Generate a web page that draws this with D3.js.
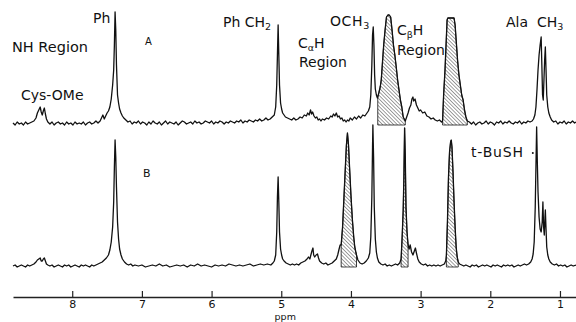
<!DOCTYPE html>
<html>
<head>
<meta charset="utf-8">
<script src="https://cdn.jsdelivr.net/npm/d3@7"></script>
<style>
  body { margin: 0; background: #fff; }
  svg { display: block; font-family: "DejaVu Sans", sans-serif; }
</style>
</head>
<body>
<svg width="576" height="322"></svg>
<script>
// spectrum A: [ppm, intensity]
var traceA = [
  [8.85,2],[8.82,0],[8.79,3],[8.76,1],[8.73,2],[8.70,0],[8.67,3],[8.64,1],[8.61,2],[8.58,3],[8.55,4],[8.52,7],[8.50,12],[8.48,15],[8.46,18],[8.445,13],[8.43,10],[8.415,14],[8.40,17],[8.385,11],[8.37,6],[8.35,3],[8.32,1],[8.29,3],[8.26,0],[8.23,2],[8.20,3],[8.17,1],[8.14,2],[8.11,0],[8.08,3],[8.05,1],[8.02,2],[7.99,0],[7.96,3],[7.93,1],[7.90,2],[7.87,1],[7.84,3],[7.81,0],[7.78,2],[7.75,3],[7.72,1],[7.69,2],[7.66,4],[7.63,2],[7.60,4],[7.58,7],[7.56,10],[7.54,6],[7.52,9],[7.50,12],[7.48,14],[7.46,18],[7.44,26],[7.42,40],[7.405,55],[7.395,80],[7.385,113],[7.375,95],[7.365,60],[7.35,30],[7.335,22],[7.32,16],[7.30,12],[7.28,9],[7.26,7],[7.23,5],[7.20,3],[7.17,4],[7.14,1],[7.11,3],[7.08,2],[7.05,4],[7.02,1],[6.99,3],[6.96,2],[6.93,0],[6.90,3],[6.87,1],[6.84,4],[6.81,2],[6.78,1],[6.75,3],[6.72,0],[6.69,2],[6.66,4],[6.63,1],[6.60,3],[6.57,2],[6.54,1],[6.51,3],[6.48,0],[6.45,2],[6.42,4],[6.39,3],[6.36,1],[6.33,2],[6.30,3],[6.27,1],[6.24,4],[6.21,2],[6.18,3],[6.15,1],[6.12,2],[6.09,4],[6.06,3],[6.03,2],[6.00,4],[5.97,1],[5.94,3],[5.91,2],[5.88,4],[5.85,3],[5.82,1],[5.79,3],[5.76,2],[5.73,4],[5.70,3],[5.67,2],[5.64,4],[5.61,3],[5.58,5],[5.55,2],[5.52,4],[5.49,3],[5.46,5],[5.43,4],[5.40,3],[5.37,5],[5.34,4],[5.31,6],[5.28,4],[5.25,5],[5.22,7],[5.19,5],[5.16,6],[5.13,8],[5.10,10],[5.08,18],[5.065,40],[5.055,70],[5.045,100],[5.035,70],[5.025,40],[5.01,22],[4.995,16],[4.98,12],[4.96,10],[4.94,8],[4.91,7],[4.88,6],[4.85,5],[4.82,7],[4.79,5],[4.76,6],[4.73,8],[4.70,7],[4.67,10],[4.64,9],[4.62,12],[4.60,10],[4.58,15],[4.565,11],[4.55,13],[4.53,9],[4.51,7],[4.49,8],[4.47,5],[4.45,6],[4.43,4],[4.41,6],[4.38,5],[4.35,7],[4.32,6],[4.29,9],[4.27,8],[4.25,11],[4.23,9],[4.21,12],[4.19,8],[4.17,9],[4.15,6],[4.13,7],[4.11,4],[4.09,5],[4.07,3],[4.05,5],[4.03,4],[4.01,7],[3.98,5],[3.95,8],[3.92,6],[3.89,9],[3.86,7],[3.83,10],[3.80,9],[3.77,12],[3.75,14],[3.73,18],[3.715,30],[3.70,60],[3.69,90],[3.68,98],[3.67,80],[3.66,50],[3.65,36],[3.635,30],[3.62,27],[3.615,28],[3.60,32],[3.58,38],[3.565,45],[3.55,60],[3.53,80],[3.51,95],[3.49,108],[3.47,110],[3.45,110],[3.43,108],[3.41,95],[3.39,80],[3.37,70],[3.35,58],[3.33,45],[3.31,35],[3.29,25],[3.27,18],[3.25,8],[3.22,4],[3.20,8],[3.18,12],[3.16,17],[3.14,20],[3.125,26],[3.11,28],[3.10,24],[3.08,26],[3.06,20],[3.04,17],[3.02,14],[3.00,15],[2.97,12],[2.94,13],[2.91,9],[2.88,8],[2.85,6],[2.82,7],[2.79,5],[2.76,4],[2.73,5],[2.70,3],[2.685,4],[2.67,30],[2.65,55],[2.635,80],[2.62,105],[2.61,107],[2.58,107],[2.55,107],[2.52,107],[2.505,100],[2.49,85],[2.47,65],[2.45,50],[2.43,40],[2.41,30],[2.39,25],[2.37,15],[2.35,8],[2.33,4],[2.30,3],[2.27,1],[2.24,3],[2.21,0],[2.18,2],[2.15,3],[2.12,1],[2.09,2],[2.06,4],[2.03,1],[2.00,3],[1.97,2],[1.94,0],[1.91,3],[1.88,2],[1.85,4],[1.82,1],[1.79,3],[1.76,2],[1.73,4],[1.70,2],[1.67,1],[1.64,3],[1.61,2],[1.58,4],[1.55,1],[1.52,3],[1.49,2],[1.46,4],[1.43,3],[1.40,4],[1.38,6],[1.36,10],[1.345,18],[1.33,35],[1.315,55],[1.30,70],[1.285,80],[1.27,88],[1.26,60],[1.25,30],[1.24,25],[1.23,45],[1.22,65],[1.21,78],[1.20,55],[1.19,30],[1.175,18],[1.16,12],[1.14,8],[1.12,5],[1.09,3],[1.06,4],[1.03,1],[1.00,3],[0.97,2],[0.94,4],[0.91,1],[0.88,3],[0.85,2],[0.82,4],[0.79,2],[0.77,3]
];

// spectrum B: [ppm, intensity]
var traceB = [
  [8.85,1],[8.82,2],[8.79,0],[8.76,1],[8.73,2],[8.70,1],[8.67,0],[8.64,2],[8.61,1],[8.58,2],[8.55,3],[8.52,5],[8.50,7],[8.48,8],[8.46,9],[8.445,6],[8.43,6],[8.415,8],[8.40,9],[8.385,6],[8.37,3],[8.35,2],[8.32,1],[8.29,2],[8.26,0],[8.23,1],[8.20,2],[8.17,1],[8.14,0],[8.11,2],[8.08,1],[8.05,2],[8.02,0],[7.99,1],[7.96,2],[7.93,1],[7.90,0],[7.87,2],[7.84,1],[7.81,2],[7.78,1],[7.75,0],[7.72,2],[7.69,1],[7.66,2],[7.63,3],[7.60,4],[7.57,5],[7.54,7],[7.51,9],[7.48,12],[7.46,17],[7.44,25],[7.42,40],[7.405,65],[7.395,100],[7.385,127],[7.375,110],[7.365,80],[7.35,45],[7.335,28],[7.32,18],[7.30,12],[7.28,8],[7.25,5],[7.22,3],[7.19,2],[7.16,3],[7.13,1],
  [7.10,2],[7.05,1],[7.00,2],[6.95,0],[6.90,1],[6.85,2],[6.80,1],[6.75,3],[6.70,1],[6.65,2],[6.60,0],[6.55,1],[6.50,2],[6.45,1],[6.40,2],[6.35,0],[6.30,2],[6.25,1],[6.20,3],[6.15,1],[6.10,2],[6.05,1],[6.00,0],[5.95,2],[5.90,1],[5.85,2],[5.80,1],[5.75,3],[5.70,2],[5.65,1],[5.60,2],[5.55,1],[5.50,2],[5.45,3],[5.40,1],[5.35,2],[5.30,3],[5.25,2],[5.20,3],[5.15,2],
  [5.12,4],[5.10,6],[5.08,12],[5.065,35],[5.055,70],[5.045,90],[5.035,65],[5.025,35],[5.01,18],[4.995,12],[4.98,8],[4.96,6],[4.93,4],[4.90,3],[4.87,2],[4.84,3],[4.81,2],[4.78,3],[4.75,2],[4.72,4],[4.69,5],[4.66,6],[4.63,8],[4.61,10],[4.59,8],[4.575,12],[4.56,16],[4.545,19],[4.535,12],[4.52,10],[4.50,12],[4.48,13],[4.465,9],[4.45,6],[4.42,4],[4.39,3],[4.36,4],[4.33,2],[4.30,3],[4.27,4],[4.24,6],[4.21,8],[4.19,12],[4.17,18],[4.155,22],[4.14,22],[4.12,40],[4.10,70],[4.08,100],[4.065,122],[4.05,134],[4.035,122],[4.02,100],[4.00,72],[3.98,48],[3.96,30],[3.945,20],[3.93,15],[3.92,12],[3.90,7],[3.87,4],[3.84,3],[3.81,4],[3.78,6],[3.75,9],[3.73,14],[3.715,30],[3.70,70],[3.69,120],[3.685,142],[3.675,110],[3.665,60],[3.65,28],[3.635,15],[3.62,9],[3.60,5],[3.57,3],[3.54,2],[3.51,3],[3.48,1],[3.45,2],[3.42,1],[3.39,2],[3.36,3],[3.33,2],[3.30,4],[3.28,8],[3.265,30],[3.25,57],[3.24,90],[3.23,139],[3.22,110],[3.21,60],[3.195,35],[3.18,22],[3.165,18],[3.15,22],[3.13,15],[3.11,12],[3.09,16],[3.075,19],[3.06,14],[3.04,8],[3.02,5],[2.99,3],[2.96,2],[2.93,3],[2.90,1],[2.87,2],[2.84,1],[2.81,2],[2.78,1],[2.75,2],[2.72,1],[2.69,2],[2.66,3],[2.64,6],[2.63,12],[2.615,45],[2.60,90],[2.585,115],[2.57,125],[2.56,127],[2.55,120],[2.535,95],[2.52,65],[2.505,40],[2.49,20],[2.475,10],[2.46,5],[2.44,3],[2.41,2],[2.38,1],[2.35,2],[2.32,1],[2.29,0],[2.26,2],[2.23,1],[2.20,2],[2.17,0],[2.14,1],[2.11,2],[2.08,1],[2.05,2],[2.02,1],[1.99,0],[1.96,2],[1.93,1],[1.90,2],[1.87,1],[1.84,0],[1.81,2],[1.78,1],[1.75,2],[1.72,1],[1.69,2],[1.66,0],[1.63,1],[1.60,2],[1.57,1],[1.54,2],[1.51,3],[1.48,2],[1.45,3],[1.42,5],[1.40,8],[1.385,13],[1.37,25],[1.355,60],[1.345,100],[1.335,140],[1.325,105],[1.315,75],[1.30,50],[1.285,38],[1.27,35],[1.255,45],[1.245,65],[1.235,40],[1.225,32],[1.215,50],[1.21,57],[1.20,38],[1.19,20],[1.175,12],[1.16,8],[1.14,5],[1.11,3],[1.08,2],[1.05,3],[1.02,1],[0.99,2],[0.96,1],[0.93,2],[0.90,0],[0.87,1],[0.84,2],[0.81,1],[0.77,2]
];

// shaded (hatched) peaks, ppm ranges
var hatchA = [[3.615, 3.22], [2.685, 2.33]];
var hatchB = [[4.14, 3.92], [3.28, 3.18], [2.63, 2.46]];
var ppmTicks = [8, 7, 6, 5, 4, 3, 2, 1];

var svg = d3.select("svg");

var x = d3.scaleLinear().domain([8.85, 0.77]).range([13, 576]);
var y = d3.scaleLinear().domain([0, 150]).range([0, -150]);

var defs = svg.append("defs");
defs.append("pattern")
  .attr("id", "hatch")
  .attr("patternUnits", "userSpaceOnUse")
  .attr("width", 2.6).attr("height", 2.6)
  .attr("patternTransform", "rotate(-45)")
  .append("line")
  .attr("x1", 0).attr("y1", 0).attr("x2", 0).attr("y2", 2.6)
  .attr("stroke", "#111").attr("stroke-width", 0.8);

var line = d3.line().x(function (d) { return x(d[0]); }).y(function (d) { return y(d[1]); });
var area = d3.area().x(function (d) { return x(d[0]); }).y0(y(0)).y1(function (d) { return y(d[1]); });

function drawTrace(data, hatches, baseY) {
  var g = svg.append("g").attr("transform", "translate(0," + baseY + ")");
  hatches.forEach(function (r) {
    var seg = data.filter(function (d) { return d[0] <= r[0] + 1e-6 && d[0] >= r[1] - 1e-6; });
    g.append("path")
      .attr("d", area(seg))
      .attr("fill", "url(#hatch)")
      .attr("stroke", "#111")
      .attr("stroke-width", 0.8);
  });
  g.append("path")
    .attr("d", line(data))
    .attr("fill", "none")
    .attr("stroke", "#111")
    .attr("stroke-width", 1.3)
    .attr("stroke-linejoin", "round");
}

drawTrace(traceA, hatchA, 125);
drawTrace(traceB, hatchB, 267);

// axis
var axis = svg.append("g")
  .attr("transform", "translate(0,297)")
  .call(d3.axisBottom(x).tickValues(ppmTicks).tickSizeInner(-6).tickSizeOuter(0).tickPadding(3));
axis.select(".domain").attr("stroke", "#222").attr("stroke-width", 1.3);
axis.selectAll(".tick line").attr("stroke", "#222").attr("stroke-width", 1.2);
axis.selectAll(".tick text").attr("font-size", 11).attr("fill", "#111").attr("font-family", "DejaVu Sans, sans-serif");

svg.append("text").attr("x", x(5) + 4).attr("y", 319.6).attr("text-anchor", "middle")
  .attr("font-size", 9.5).attr("fill", "#111").text("ppm");

// labels
function label(tx, ty, parts, size) {
  var t = svg.append("text").attr("x", tx).attr("y", ty).attr("font-size", size || 14).attr("fill", "#111");
  parts.forEach(function (p) {
    var s = t.append("tspan").text(p[0]);
    if (p[1] === "sub") s.attr("font-size", (size || 14) * 0.68).attr("dy", 2.5);
    if (p[1] === "up") s.attr("dy", -2.5);
  });
  return t;
}

label(12, 52, [["NH Region"]], 14.5);
label(21, 100, [["Cys-OMe"]]);
label(93, 23, [["Ph"]]);
label(145, 45, [["A"]], 10);
label(143, 177, [["B"]], 11);
label(223, 27, [["Ph CH"], ["2", "sub"]]);
label(298, 48, [["C"], ["\u03b1", "sub"], ["H", "up"]]);
label(299, 67, [["Region"]]);
label(330, 26, [["OCH"], ["3", "sub"]]).attr("letter-spacing", 0.6);
label(397, 35, [["C"], ["\u03b2", "sub"], ["H", "up"]]);
label(397, 55, [["Region"]]);
label(506, 27, [["Ala"]]);
label(537, 27, [["CH"], ["3", "sub"]]);
label(471, 157, [["t-BuSH"]]).attr("letter-spacing", 0.8);
svg.append("circle").attr("cx", x(1.39)).attr("cy", 153).attr("r", 1).attr("fill", "#111");
</script>
</body>
</html>
